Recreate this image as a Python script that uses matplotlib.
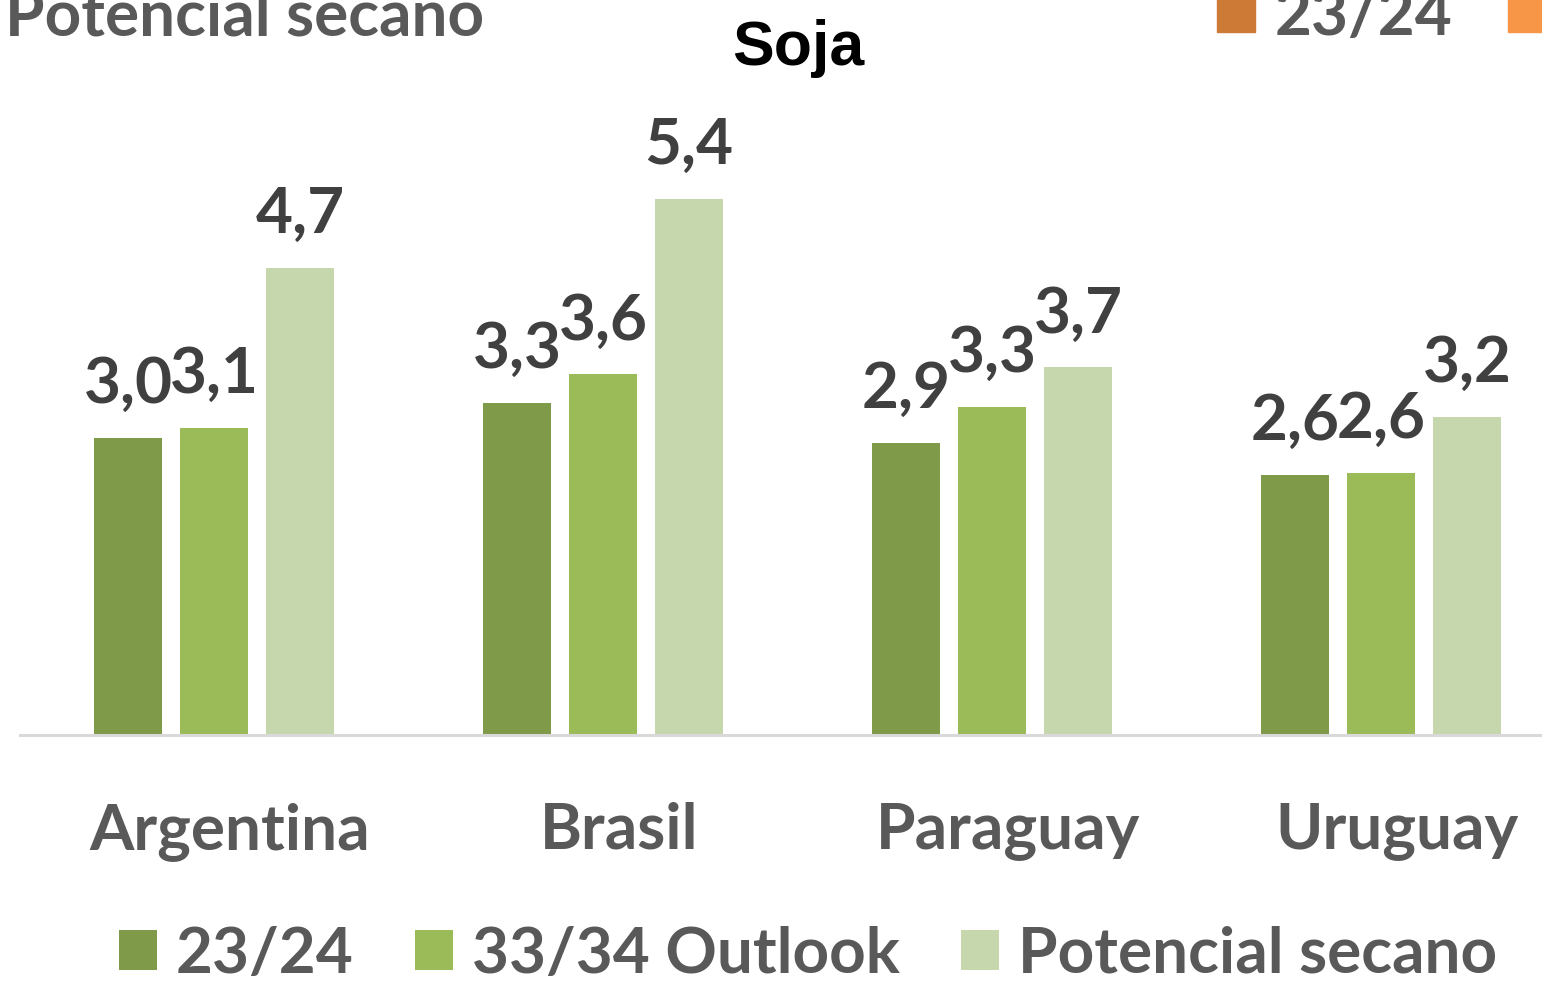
import matplotlib.pyplot as plt
import matplotlib.transforms as mtransforms
from matplotlib.patches import Rectangle
import numpy as np

# data (t/ha)
countries = ['Argentina', 'Brasil', 'Paraguay', 'Uruguay']
series_names = ['23/24', '33/34 Outlook', 'Potencial secano']
yield_2324 = [2.99, 3.34, 2.94, 2.62]
yield_3334 = [3.09, 3.63, 3.30, 2.64]
yield_secano = [4.70, 5.40, 3.70, 3.20]

# cut-off legend of the chart above (top edge of the picture)
top_legend_labels = ['Potencial secano', '23/24']

colors = ['#7F9A48', '#9BBB59', '#C6D6AD']
top_colors = ['#CD7A37', '#F79646']
label_color = '#404040'
text_gray = '#595959'

plt.rcParams['font.family'] = ['Lato', 'DejaVu Sans']
plt.rcParams['font.weight'] = 'bold'
fs = 46

fig = plt.figure(figsize=(15.42, 9.83), dpi=100)
ax = fig.add_axes([19.5 / 1542, 1 - 735 / 983, 1556 / 1542, 596 / 983])

x = np.arange(len(countries))
step = 0.221
width = 0.175
all_series = [yield_2324, yield_3334, yield_secano]

bars = []
for i, vals in enumerate(all_series):
    b = ax.bar(x + (i - 1) * step, vals, width, color=colors[i],
               label=series_names[i], zorder=2)
    bars.append(b)
    ax.bar_label(b, labels=[f'{v:.1f}'.replace('.', ',') for v in vals],
                 padding=18, fontsize=fs, fontweight='bold', color=label_color)

ax.set_xlim(-0.5, 3.5)
ax.set_ylim(0, 6)
ax.set_yticks([])
for s in ['top', 'right', 'left']:
    ax.spines[s].set_visible(False)
ax.spines['bottom'].set_color('#D9D9D9')
ax.spines['bottom'].set_linewidth(2.2)

ax.set_xticks(x)
ax.set_xticklabels(countries, fontsize=fs, fontweight='bold', color=text_gray)
ax.tick_params(axis='x', length=0, pad=48)
offset = mtransforms.ScaledTranslation(16 / 100, 0, fig.dpi_scale_trans)
for lbl in ax.get_xticklabels():
    lbl.set_transform(lbl.get_transform() + offset)

fig.text(798 / 1542, 1 - 65 / 983, 'Soja', ha='center', va='baseline',
         fontsize=45, fontweight='bold', color='black',
         family='Liberation Sans')

leg = fig.legend(handles=bars, labels=series_names, loc='center',
                 bbox_to_anchor=(808 / 1542, 1 - 954 / 983), ncol=3,
                 frameon=False, fontsize=fs, handlelength=0.6,
                 handleheight=0.6, handletextpad=0.3, columnspacing=0.95,
                 borderaxespad=0, borderpad=0)
for t in leg.get_texts():
    t.set_color(text_gray)
    t.set_fontweight('bold')

# partial legend from the chart above, clipped by the top edge
fig.text(5 / 1542, 1 - 35 / 983, top_legend_labels[0], ha='left',
         va='baseline', fontsize=fs, fontweight='bold', color=text_gray)
fig.text(1275 / 1542, 1 - 35 / 983, top_legend_labels[1], ha='left',
         va='baseline', fontsize=fs, fontweight='bold', color=text_gray)
fig.patches.append(Rectangle((1217 / 1542, 1 - 32 / 983), 38 / 1542, 40 / 983,
                             transform=fig.transFigure, color=top_colors[0]))
fig.patches.append(Rectangle((1508 / 1542, 1 - 32 / 983), 38 / 1542, 40 / 983,
                             transform=fig.transFigure, color=top_colors[1]))

fig.savefig('out.png', dpi=100)
